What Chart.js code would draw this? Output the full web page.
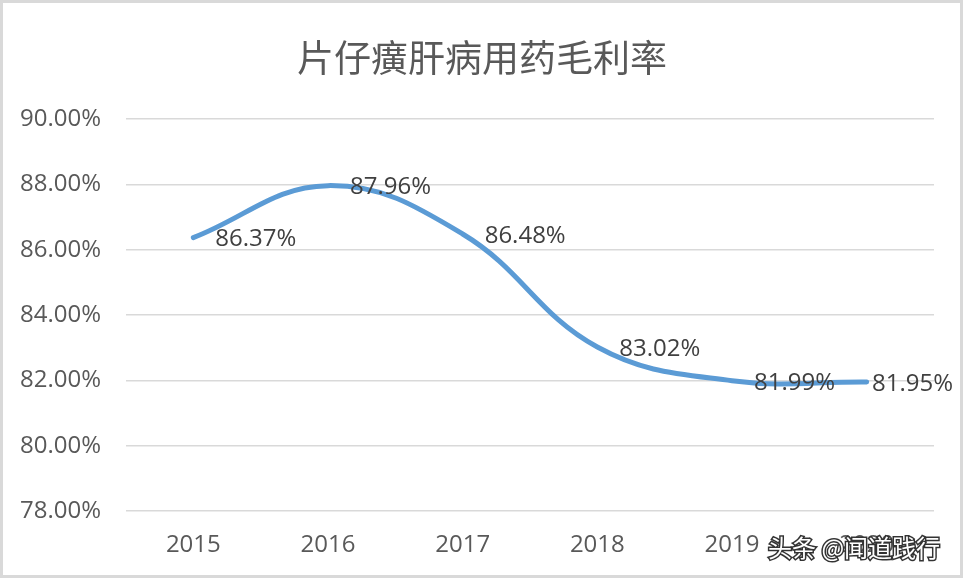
<!DOCTYPE html>
<html>
<head>
<meta charset="utf-8">
<script src="https://cdn.jsdelivr.net/npm/chart.js@4"></script>
<style>
  html, body { margin: 0; padding: 0; background: #fff; }
  #wrap { width: 964px; height: 579px; position: relative; }
</style>
</head>
<body>
<div id="wrap"><canvas id="marginChart"></canvas></div>
<script>
const years = ['2015', '2016', '2017', '2018', '2019', '2020'];
const grossMargin = [86.37, 87.96, 86.48, 83.02, 81.99, 81.95];
const chartTitle = '片仔癀肝病用药毛利率';
const watermark = '头条 @闻道践行';

const numFont = "'Open Sans', 'Noto Sans', sans-serif";
const cjkFont = "'Noto Sans CJK SC', sans-serif";

// white background, gray frame, title centred on the whole picture, watermark
const framePlugin = {
    id: 'frame',
    beforeDraw(chart) {
        const c = chart.ctx;
        c.save();
        c.fillStyle = '#fff';
        c.fillRect(0, 0, chart.width, chart.height);
        c.strokeStyle = '#d9d9d9';
        c.lineWidth = 3;
        c.strokeRect(1.5, 1.5, chart.width - 4, chart.height - 4);
        c.font = '37px ' + cjkFont;
        c.fillStyle = '#595959';
        c.textAlign = 'center';
        c.textBaseline = 'middle';
        c.fillText(chartTitle, chart.width / 2, 58);
        c.restore();
    },
    afterDraw(chart) {
        const c = chart.ctx;
        c.save();
        c.font = '24px ' + cjkFont;
        c.textBaseline = 'middle';
        c.textAlign = 'left';
        c.lineWidth = 3;
        c.strokeStyle = '#333';
        c.strokeText(watermark, 768, 548);
        c.fillStyle = '#fff';
        c.fillText(watermark, 768, 548);
        c.restore();
    }
};

// value labels to the right of each point, kept inside the frame
const valueLabels = {
    id: 'valueLabels',
    afterDatasetsDraw(chart) {
        const c = chart.ctx;
        const meta = chart.getDatasetMeta(0);
        c.save();
        c.font = '24px ' + numFont;
        c.fillStyle = '#404040';
        c.textAlign = 'left';
        c.textBaseline = 'middle';
        meta.data.forEach((pt, i) => {
            const txt = grossMargin[i].toFixed(2) + '%';
            const w = c.measureText(txt).width;
            const x = Math.min(pt.x + 22, chart.width - 11 - w);
            c.fillText(txt, x, pt.y + 2);
        });
        c.restore();
    }
};

const ctx = document.getElementById('marginChart').getContext('2d');
new Chart(ctx, {
    type: 'line',
    data: {
        labels: years,
        datasets: [{
            label: chartTitle,
            data: grossMargin,
            borderColor: '#5b9bd5',
            borderWidth: 5,
            borderCapStyle: 'round',
            tension: 0.4,
            pointRadius: 0,
            fill: false
        }]
    },
    options: {
        responsive: true,
        maintainAspectRatio: false,
        animation: false,
        layout: { padding: { left: 0, right: 30, top: 119, bottom: 0 } },
        plugins: {
            legend: { display: false },
            tooltip: { enabled: false },
            title: { display: false }
        },
        scales: {
            x: {
                offset: true,
                grid: { display: false, drawTicks: false },
                border: { display: false },
                ticks: {
                    color: '#595959',
                    font: { family: numFont, size: 24 },
                    padding: 20,
                    maxRotation: 0
                },
                afterFit: (scale) => { scale.height = 68; }
            },
            y: {
                min: 78,
                max: 90,
                grid: { color: '#d9d9d9', lineWidth: 1.5, drawTicks: false },
                border: { display: false },
                ticks: {
                    stepSize: 2,
                    color: '#595959',
                    font: { family: numFont, size: 24 },
                    padding: 25,
                    callback: (v) => v.toFixed(2) + '%'
                },
                afterFit: (scale) => { scale.width = 126; }
            }
        }
    },
    plugins: [framePlugin, valueLabels]
});
</script>
</body>
</html>
